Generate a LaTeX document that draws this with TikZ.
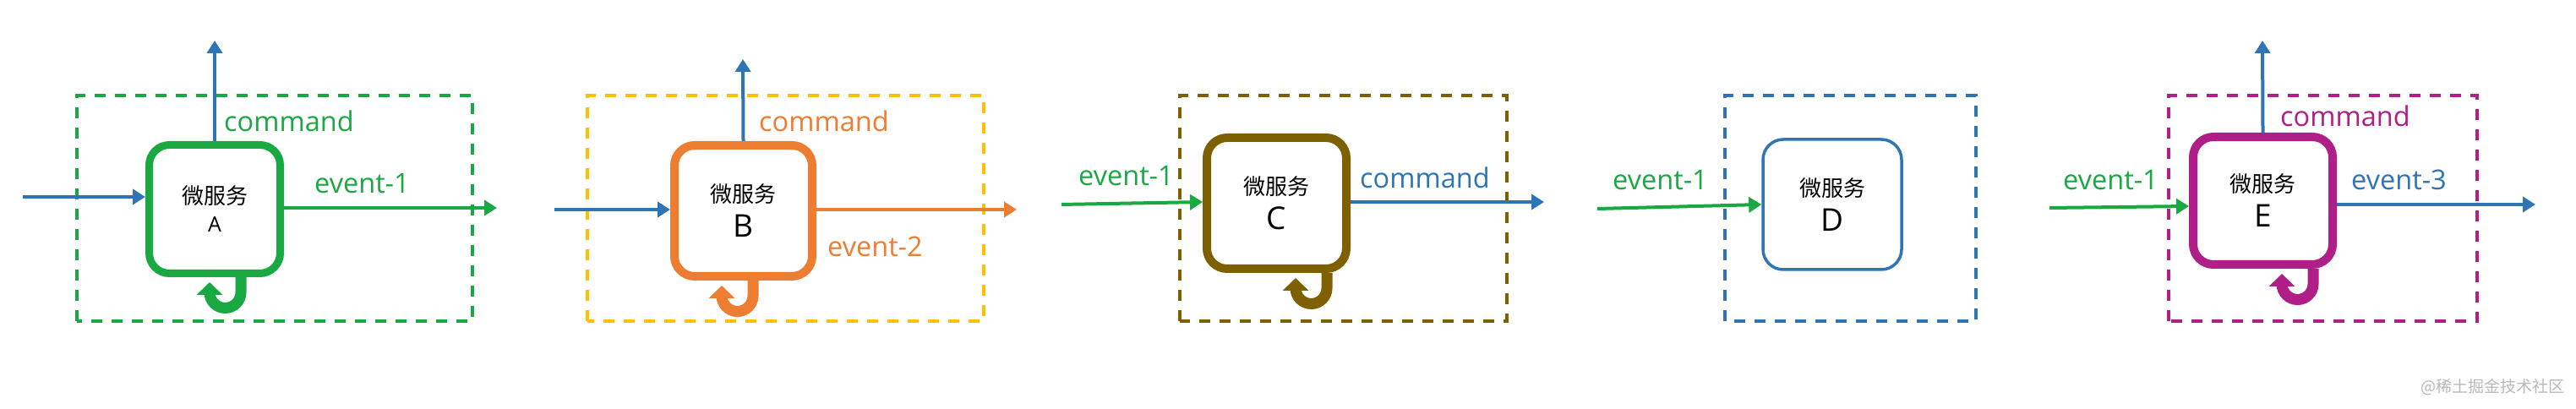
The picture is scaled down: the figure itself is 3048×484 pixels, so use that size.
\documentclass[tikz,border=0pt]{standalone}
\usepackage{fontspec}
\setmainfont{Open Sans}
\newfontfamily\cjk{Noto Sans CJK SC}
\usetikzlibrary{arrows.meta, positioning, calc}
\definecolor{MsGreen}{RGB}{26,168,67}
\definecolor{MsOrange}{RGB}{237,125,49}
\definecolor{MsGold}{RGB}{255,192,0}
\definecolor{MsBlue}{RGB}{46,117,182}
\definecolor{MsBrown}{RGB}{127,96,0}
\definecolor{MsMagenta}{RGB}{176,30,135}

\begin{document}
\begin{tikzpicture}[x=1pt,y=1pt,
    svc/.style={draw, fill=white, text=black, rounded corners=24pt, align=center, inner sep=0pt,
                font=\cjk\fontsize{26}{41}\selectfont},
    zone/.style={line width=4pt, dash pattern=on 13pt off 11pt},
    flow/.style={line width=4pt, -{Triangle[length=15pt,width=18pt]}},
    selfloop/.style={line width=13pt, -{Triangle[length=15pt,width=30pt]}},
    lbl/.style={anchor=west, inner sep=0pt, font=\fontsize{32.5}{36}\selectfont}]
  \path[use as bounding box] (0,0) rectangle (3048,484);
  \fill[white] (0,0) rectangle (3048,484);

  % A
  \draw[zone, MsGreen] (91,104) rectangle (559,371);
  \node[svc, draw=MsGreen, line width=9pt, minimum width=155pt, minimum height=152pt,
        font=\cjk\fontsize{26}{33}\selectfont] (svcA) at (254,236.5)
    {微服务\\\fontspec{Open Sans}\fontsize{25}{33}\selectfont A};
  \coordinate (inA) at (27,251);
  \coordinate (outA) at (588,238);
  \coordinate (upA) at (254,436);
  \draw[flow, MsBlue] (inA) -- (svcA.west |- inA);
  \draw[flow, MsGreen] (svcA.east |- outA) -- (outA);
  \draw[flow, MsBlue] (svcA.north) -- (upA);
  \draw[selfloop, MsGreen] ([xshift=31pt]svcA.south) -- ++(0,-18)
    arc[start angle=0, end angle=-180, radius=18.5] -- ++(0,12);
  \node[lbl, MsGreen] (cmdA) at (265,341) {command};
  \node[lbl, MsGreen] (evA) at (372,267) {event-1};

  % B
  \draw[zone, MsGold] (695,104) rectangle (1164,371);
  \node[svc, draw=MsOrange, line width=10pt, minimum width=163pt, minimum height=155pt] (svcB) at (879.5,234.5)
    {微服务\\\fontspec{Open Sans}\fontsize{37}{41}\selectfont B};
  \coordinate (inB) at (656,236);
  \coordinate (outB) at (1203,236);
  \coordinate (upB) at (879,414);
  \draw[flow, MsBlue] (inB) -- (svcB.west |- inB);
  \draw[flow, MsOrange] (svcB.east |- outB) -- (outB);
  \draw[flow, MsBlue] (svcB.north) -- (upB);
  \draw[selfloop, MsOrange] ([xshift=11.5pt]svcB.south) -- ++(0,-18)
    arc[start angle=0, end angle=-180, radius=18.5] -- ++(0,12);
  \node[lbl, MsOrange] (cmdB) at (898,341) {command};
  \node[lbl, MsOrange] (evB) at (979,192) {event-2};

  % C
  \draw[zone, MsBrown] (1396,104) rectangle (1783,371);
  \node[svc, draw=MsBrown, line width=10pt, minimum width=165pt, minimum height=155pt] (svcC) at (1510.5,243.5)
    {微服务\\\fontspec{Open Sans}\fontsize{37}{41}\selectfont C};
  \coordinate (inC) at (1256,242);
  \coordinate (outC) at (1827,245);
  \draw[flow, MsGreen] (inC) -- ([yshift=1.5pt]svcC.west);
  \draw[flow, MsBlue] (svcC.east |- outC) -- (outC);
  \draw[selfloop, MsBrown] ([xshift=59.5pt]svcC.south) -- ++(0,-18)
    arc[start angle=0, end angle=-180, radius=18.5] -- ++(0,12);
  \node[lbl, MsGreen] (evC) at (1276,276) {event-1};
  \node[lbl, MsBlue] (cmdC) at (1609,274) {command};

  % D
  \draw[zone, MsBlue] (2041,104) rectangle (2338,371);
  \node[svc, draw=MsBlue, line width=3.5pt, minimum width=164pt, minimum height=154pt] (svcD) at (2168,242)
    {微服务\\\fontspec{Open Sans}\fontsize{37}{41}\selectfont D};
  \coordinate (inD) at (1890,237);
  \draw[flow, MsGreen] (inD) -- (svcD.west);
  \node[lbl, MsGreen] (evD) at (1908,271) {event-1};

  % E
  \draw[zone, MsMagenta] (2566,104) rectangle (2931,371);
  \node[svc, draw=MsMagenta, line width=10pt, minimum width=165pt, minimum height=151pt] (svcE) at (2677.5,246.5)
    {微服务\\\fontspec{Open Sans}\fontsize{37}{41}\selectfont E};
  \coordinate (inE) at (2425,238);
  \coordinate (outE) at (3000,242);
  \coordinate (upE) at (2677,436);
  \draw[flow, MsGreen] (inE) -- ([yshift=-6.5pt]svcE.west);
  \draw[flow, MsBlue] (svcE.east |- outE) -- (outE);
  \draw[flow, MsBlue] (svcE.north) -- (upE);
  \draw[selfloop, MsMagenta] ([xshift=59.5pt]svcE.south) -- ++(0,-18)
    arc[start angle=0, end angle=-180, radius=18.5] -- ++(0,12);
  \node[lbl, MsMagenta] (cmdE) at (2698,347) {command};
  \node[lbl, MsGreen] (evE1) at (2441,271) {event-1};
  \node[lbl, MsBlue] (evE3) at (2782,271) {event-3};

  \node[anchor=east, inner sep=0pt, gray!55, font=\cjk\fontsize{19}{22}\selectfont] (mark) at (3035,26) {@稀土掘金技术社区};
\end{tikzpicture}
\end{document}
